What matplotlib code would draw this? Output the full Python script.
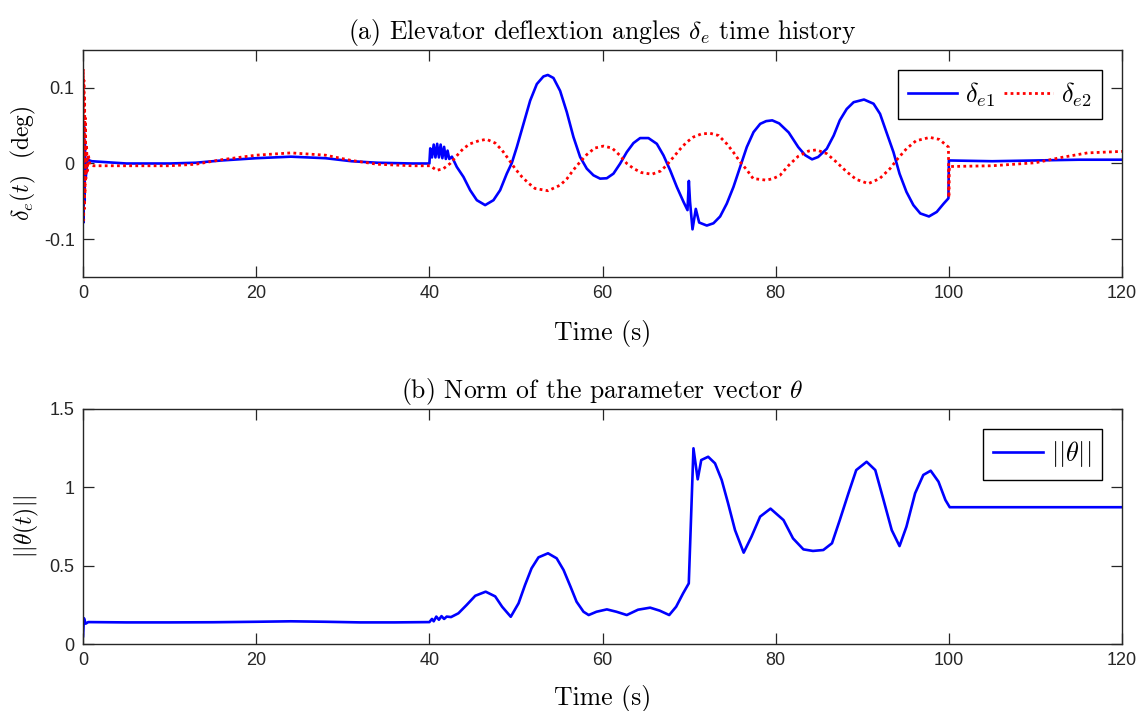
import numpy as np
import matplotlib
matplotlib.use("Agg")
import matplotlib.pyplot as plt

# ---- data ----
t_e1 = [0, 0.05, 0.1, 0.15, 0.2, 0.3, 0.5, 1, 5, 10, 13, 16, 20, 24, 28, 31, 34, 38, 40,
        40.1, 40.3, 40.5, 40.7, 40.9, 41.1, 41.3, 41.5, 41.7, 41.9, 42.1, 42.3, 42.6,
        43.17, 43.94, 44.71, 45.48, 46.44, 47.4, 48.17, 48.94, 49.52, 50.1, 50.87, 51.64,
        52.41, 53.17, 53.68, 54.33, 55.1, 55.87, 56.64, 57.41, 58.18, 58.95, 59.72, 60.49,
        61.26, 62.03, 62.8, 63.57, 64.34, 65.3, 66.27, 67.04, 67.81, 68.58, 69.35, 69.81,
        69.97, 70.1, 70.39, 70.77, 71.16, 72.04, 72.81, 73.58, 74.35, 75.12, 75.89, 76.66,
        77.44, 78.21, 78.9, 79.6, 80.4, 81.5, 82.6, 83.4, 84.2, 84.9, 85.9, 86.7, 87.4,
        88.2, 89.0, 90.2, 91.3, 92.05, 92.8, 93.6, 94.3, 95.1, 95.9, 96.7, 97.7, 98.6, 99.4,
        99.95, 100.0, 105, 110, 115, 120]
d_e1 = [0.0, -0.078, 0.05, -0.05, 0.03, -0.02, 0.005, 0.003, 0.0, 0.0, 0.001, 0.004, 0.007,
        0.009, 0.007, 0.003, 0.001, 0.0, 0.0,
        0.02, 0.008, 0.025, 0.008, 0.026, 0.008, 0.025, 0.007, 0.022, 0.006, 0.017, 0.006, 0.009,
        -0.0046, -0.0178, -0.0353, -0.0485, -0.055, -0.0485, -0.0353, -0.0134, 0.0007, 0.0217,
        0.0524, 0.0831, 0.105, 0.115, 0.117, 0.113, 0.096, 0.068, 0.035, 0.0086, -0.0068,
        -0.0156, -0.020, -0.0195, -0.0134, -0.0002, 0.0151, 0.027, 0.0336, 0.0336, 0.026,
        0.0107, -0.009, -0.031, -0.0507, -0.0616, -0.023, -0.05, -0.087, -0.060, -0.078,
        -0.082, -0.079, -0.070, -0.053, -0.031, -0.0046, 0.0217, 0.0415, 0.0524, 0.056,
        0.057, 0.053, 0.041, 0.0217, 0.011, 0.0055, 0.0086, 0.0195, 0.037, 0.057, 0.072,
        0.081, 0.0845, 0.079, 0.0656, 0.041, 0.015, -0.0134, -0.0375, -0.055, -0.066, -0.070,
        -0.064, -0.053, -0.046, 0.004, 0.003, 0.004, 0.005, 0.005]

t_e2 = [0, 0.03, 0.07, 0.1, 0.14, 0.18, 0.22, 0.27, 0.32, 0.4, 0.5, 0.6, 0.8, 1.2, 5, 10, 13,
        16, 20, 24, 28, 31, 34, 38, 40.08, 40.85, 41.6, 42.4, 43.2, 43.9, 44.7, 45.7, 46.6,
        47.6, 48.4, 49.1, 49.9, 50.7, 51.5, 52.2, 53.7, 55.1, 55.9, 56.6, 57.4, 58.2, 59.1,
        60.1, 61.1, 62.0, 62.8, 63.6, 64.5, 65.7, 66.7, 67.4, 68.2, 69.0, 69.7, 70.5, 71.4,
        72.4, 73.4, 74.35, 75.1, 75.9, 76.7, 77.4, 78.2, 78.9, 79.7, 80.5, 81.5, 82.6, 83.8,
        84.7, 85.9, 87.0, 88.2, 89.3, 90.7, 92.0, 93.2, 94.1, 95.1, 96.2, 97.8, 98.9, 99.95,
        100.0, 100.05, 105, 110, 113, 116, 120]
d_e2 = [0.0, 0.125, -0.075, 0.11, -0.06, 0.09, -0.04, 0.06, -0.02, 0.025, -0.01, 0.012, -0.002,
        -0.003, -0.003, -0.003, -0.001, 0.005, 0.011, 0.014, 0.011, 0.004, -0.001, -0.003,
        -0.003, -0.009, -0.007, 0.0, 0.0107, 0.0195, 0.026, 0.030, 0.032, 0.027, 0.0174,
        0.0064, -0.0068, -0.0178, -0.0265, -0.033, -0.036, -0.0287, -0.020, -0.009, 0.002,
        0.012, 0.0204, 0.023, 0.0204, 0.0107, 0.0, -0.0068, -0.012, -0.0142, -0.010, -0.0024,
        0.0086, 0.0195, 0.028, 0.035, 0.039, 0.040, 0.037, 0.026, 0.015, 0.002, -0.009, -0.020,
        -0.021, -0.022, -0.020, -0.0156, -0.0024, 0.0095, 0.0165, 0.018, 0.013, 0.002, -0.011,
        -0.021, -0.0266, -0.020, -0.0068, 0.0064, 0.0195, 0.030, 0.0345, 0.0318, 0.0217,
        -0.045, -0.004, -0.003, 0.001, 0.008, 0.014, 0.016]

t_th = [0, 0.1, 0.3, 0.6, 5, 10, 15, 20, 24, 28, 32, 36, 40, 40.3, 40.5, 40.8, 41.1, 41.4,
        41.7, 42, 42.5, 43.35, 44.3, 45.3, 46.5, 47.6, 48.4, 49.4, 50.3, 51.05, 51.8, 52.6,
        53.7, 54.7, 55.5, 56.3, 57.0, 57.8, 58.4, 59.3, 60.5, 61.6, 62.8, 64.1, 65.5, 66.6,
        67.7, 68.5, 69.3, 69.96, 70.5, 70.99, 71.4, 72.2, 72.99, 73.76, 74.5, 75.3, 76.3,
        77.2, 78.2, 79.4, 80.9, 82.0, 83.2, 84.3, 85.5, 86.5, 87.4, 88.4, 89.3, 90.5, 91.5,
        92.4, 93.4, 94.3, 95.1, 96.1, 97.05, 97.9, 98.8, 99.6, 100.1, 110, 120]
n_th = [0.05, 0.165, 0.13, 0.14, 0.138, 0.138, 0.139, 0.142, 0.145, 0.142, 0.138, 0.138, 0.14,
        0.16, 0.145, 0.175, 0.155, 0.178, 0.16, 0.175, 0.172, 0.196, 0.249, 0.308, 0.334,
        0.304, 0.238, 0.174, 0.260, 0.377, 0.483, 0.553, 0.579, 0.547, 0.472, 0.366, 0.270,
        0.206, 0.185, 0.206, 0.221, 0.206, 0.185, 0.219, 0.232, 0.213, 0.185, 0.238, 0.323,
        0.387, 1.249, 1.051, 1.174, 1.195, 1.153, 1.047, 0.898, 0.727, 0.583, 0.685, 0.813,
        0.864, 0.791, 0.674, 0.604, 0.594, 0.600, 0.643, 0.791, 0.962, 1.110, 1.163, 1.110,
        0.930, 0.727, 0.625, 0.749, 0.962, 1.079, 1.106, 1.036, 0.919, 0.873, 0.873, 0.873]

x_ticks = [0, 20, 40, 60, 80, 100, 120]
y_ticks_a = [-0.1, 0, 0.1]
y_labels_a = ["-0.1", "0", "0.1"]
y_ticks_b = [0, 0.5, 1, 1.5]
y_labels_b = ["0", "0.5", "1", "1.5"]

plt.rcParams.update({
    "font.family": "Liberation Sans",
    "mathtext.fontset": "cm",
    "axes.unicode_minus": False,
    "axes.edgecolor": "#262626",
    "xtick.color": "#262626",
    "ytick.color": "#262626",
})

AX = "#262626"
serif = dict(family="cmr10", color="black")

fig = plt.figure(figsize=(11.44, 7.11), dpi=100)
ax1 = fig.add_axes([0.0726, 0.6104, 0.9082, 0.3193])
ax2 = fig.add_axes([0.0726, 0.0942, 0.9082, 0.3306])

ax1.plot(t_e1, d_e1, color="#0000ff", lw=1.9, label=r"$\delta_{e1}$")
ax1.plot(t_e2, d_e2, color="#ff0000", lw=2.0, ls=(0, (1, 1.2)), label=r"$\delta_{e2}$")
ax1.set_ylim(-0.15, 0.15)
ax1.set_yticks(y_ticks_a)
ax1.set_yticklabels(y_labels_a)
ax1.set_title(r"(a) Elevator deflextion angles $\delta_e$ time history", fontsize=18.5, pad=8, **serif)
ax1.set_xlabel("Time (s)", fontsize=18.5, labelpad=13, **serif)
ax1.set_ylabel(r"$\delta_e(t)$  (deg)", fontsize=17, labelpad=4, **serif)
leg1 = ax1.legend(loc="upper right", ncol=2, fontsize=19, frameon=True, fancybox=False,
                  handlelength=1.85, handletextpad=0.3, columnspacing=0.35,
                  borderpad=0.4, borderaxespad=0.75)

ax2.plot(t_th, n_th, color="#0000ff", lw=1.9, label=r"$||\theta||$")
ax2.set_ylim(0, 1.5)
ax2.set_yticks(y_ticks_b)
ax2.set_yticklabels(y_labels_b)
ax2.set_title(r"(b) Norm of the parameter vector $\theta$", fontsize=18.5, pad=8, **serif)
ax2.set_xlabel("Time (s)", fontsize=18.5, labelpad=11, **serif)
ax2.set_ylabel(r"$||\theta(t)||$", fontsize=17, labelpad=6, **serif)
leg2 = ax2.legend(loc="upper right", fontsize=19, frameon=True, fancybox=False,
                  handlelength=1.9, handletextpad=0.3, borderpad=0.4, borderaxespad=0.75)

for leg in (leg1, leg2):
    leg.get_frame().set_edgecolor("black")
    leg.get_frame().set_linewidth(1.0)
    leg.get_frame().set_alpha(1)

for ax in (ax1, ax2):
    ax.set_xlim(0, 120)
    ax.set_xticks(x_ticks)
    ax.tick_params(direction="in", length=8, width=0.9, top=True, right=True,
                   labelsize=13, pad=6)
    for s in ax.spines.values():
        s.set_linewidth(1.0)
        s.set_color(AX)

fig.savefig("out.png", dpi=100)
